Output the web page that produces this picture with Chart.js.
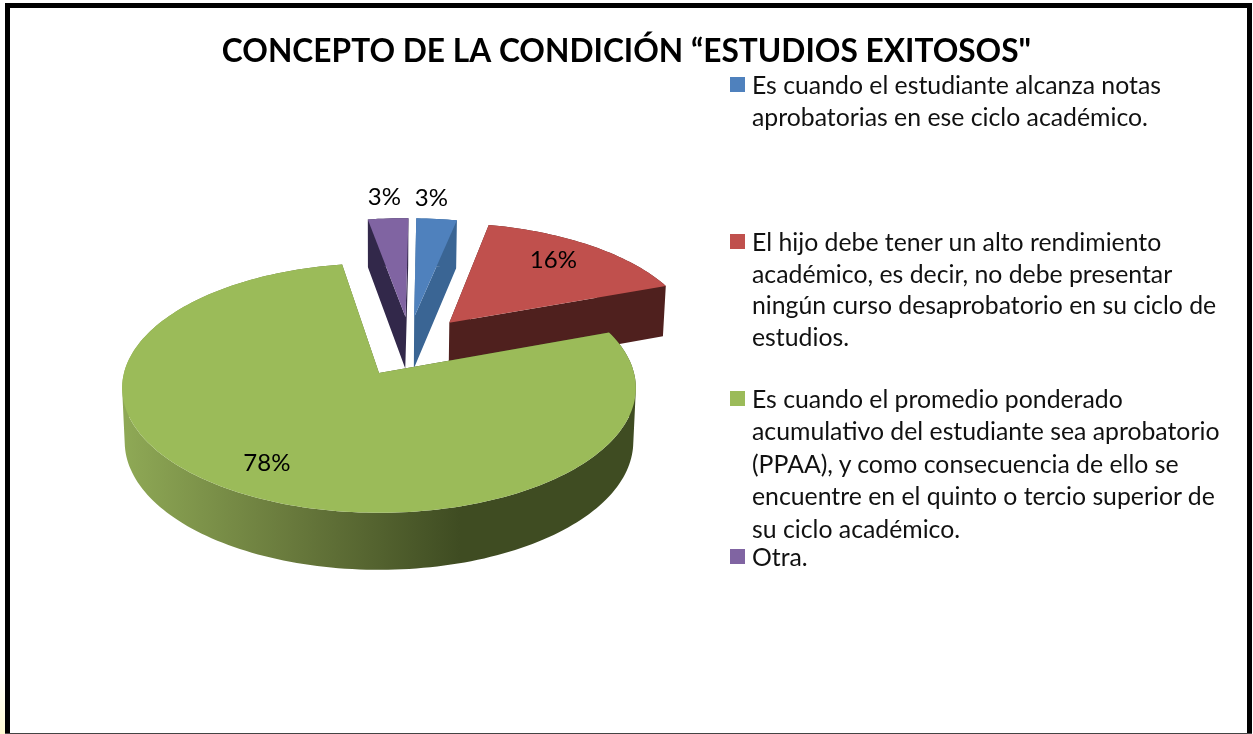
<!DOCTYPE html>
<html lang="es">
<head>
<meta charset="utf-8">
<title>Concepto de la condición</title>
<script src="https://cdn.jsdelivr.net/npm/chart.js@4/dist/chart.umd.min.js"></script>
<style>
  html, body { margin: 0; padding: 0; background: #fff; }
  #frame { position: relative; width: 1253px; height: 734px; overflow: hidden; background: #fff; }
  #frame::before { content: ""; position: absolute; left: 5px; top: 3px; right: 1px; bottom: 1px;
    border: solid #000; border-width: 5px 5px 0 5px; pointer-events: none; }
  #frame::after { content: ""; position: absolute; left: 0; top: 670px; width: 5px; height: 64px;
    background: linear-gradient(#fff, #fffbd2); }
  #base { position: absolute; left: 5px; right: 1px; bottom: 0; height: 1px; background: #444; }
  #chart { position: absolute; left: 0; top: 0; }
  .legend-item { position: absolute; left: 730px; font: 24.8px Lato, sans-serif; color: #111; white-space: nowrap; }
  .legend-item i { position: absolute; left: 0; top: 8px; width: 15px; height: 15px; }
  .legend-item span { display: block; margin-left: 22px; }
</style>
</head>
<body>
<div id="frame">
  <canvas id="chart" width="1253" height="734"></canvas>
  <div id="legend"></div>
  <div id="base"></div>
</div>
<script>
const TITLE = "CONCEPTO DE LA CONDICIÓN “ESTUDIOS EXITOSOS\"";
const categories = [
  "Es cuando el estudiante alcanza notas aprobatorias en ese ciclo académico.",
  "El hijo debe tener un alto rendimiento académico, es decir, no debe presentar ningún curso desaprobatorio en su ciclo de estudios.",
  "Es cuando el promedio ponderado acumulativo del estudiante sea aprobatorio (PPAA), y como consecuencia de ello se encuentre en el quinto o tercio superior de su ciclo académico.",
  "Otra.",
];
const values = [3, 16, 78, 3];
const valueLabels = ["3%", "16%", "78%", "3%"];
const colors = ["#4f81bd", "#c0504d", "#9bbb59", "#8064a2"];
const wallColors = ["#3a6594", "#4f201e", null, "#32284a"];

const legendLines = [
  ["Es cuando el estudiante alcanza notas", "aprobatorias en ese ciclo académico."],
  ["El hijo debe tener un alto rendimiento", "académico, es decir, no debe presentar", "ningún curso desaprobatorio en su ciclo de", "estudios."],
  ["Es cuando el promedio ponderado", "acumulativo del estudiante sea aprobatorio", "(PPAA), y como consecuencia de ello se", "encuentre en el quinto o tercio superior de", "su ciclo académico."],
  ["Otra."],
];
const legendTops = [69, 226, 383, 541];
const legendLineH = [31.6, 31.6, 32.4, 31.6];

// how the flat pie is laid on its side: a perspective view of the unit disc
const VIEW = { x: 379, y: 373, a: 255, b: 123, q: 0.12 };
// slice shift on the disc (explosion), label distance from the slice centre
const SHIFT = [[0.146, -0.4815], [0.29, -0.43], [0, 0], [0.11, -0.4815]];
const LABEL_DIST = [1.24, 0.75, 0.74, 1.24];
const LABEL_NUDGE = [[-10, 0], [-4, -3], [-9, 5], [0, 0]];

const project = (u, v) => {
  const w = 1 - VIEW.q * v;
  return { x: VIEW.x + (VIEW.a * u) / w, y: VIEW.y + (VIEW.b * v) / w };
};
// walls are a bit taller near the viewer
const wallH = (v) => 53.3 + 3.75 * v;

function slicePoints(arc, shift) {
  const pts = [{ u: shift[0], v: shift[1] }];
  const n = Math.max(8, Math.ceil((arc.endAngle - arc.startAngle) * 40));
  for (let i = 0; i <= n; i++) {
    const t = arc.startAngle + ((arc.endAngle - arc.startAngle) * i) / n;
    pts.push({ u: shift[0] + Math.cos(t), v: shift[1] + Math.sin(t) });
  }
  return pts;
}

function addPoly(ctx, list) {
  // same winding for all, so overlapping quads merge into one fill
  let area = 0;
  list.forEach((p, i) => {
    const n = list[(i + 1) % list.length];
    area += p.x * n.y - n.x * p.y;
  });
  const ordered = area < 0 ? list.slice().reverse() : list;
  ordered.forEach((p, i) => (i ? ctx.lineTo(p.x, p.y) : ctx.moveTo(p.x, p.y)));
  ctx.closePath();
}

const pie3d = {
  id: "pie3d",
  beforeDatasetsDraw(chart) {
    const ctx = chart.ctx;
    const arcs = chart.getDatasetMeta(0).data;
    const wallGrad = ctx.createLinearGradient(127, 0, 460, 0);
    wallGrad.addColorStop(0, "#8ea855");
    wallGrad.addColorStop(0.5, "#68793c");
    wallGrad.addColorStop(1, "#3f4c22");

    // far slices first, the big one last
    [3, 0, 1, 2].forEach((i) => {
      const pts = slicePoints(arcs[i], SHIFT[i]);
      const top = pts.map((p) => project(p.u, p.v));
      const bottom = pts.map((p) => {
        const q = project(p.u, p.v);
        return { x: VIEW.x + (q.x - VIEW.x) * 0.99, y: q.y + wallH(p.v) };
      });
      const last = top.length - 1;

      ctx.beginPath();
      addPoly(ctx, [top[0], top[1], bottom[1], bottom[0]]);
      addPoly(ctx, [top[0], top[last], bottom[last], bottom[0]]);
      for (let k = 1; k < last; k++) {
        addPoly(ctx, [top[k], top[k + 1], bottom[k + 1], bottom[k]]);
      }
      ctx.fillStyle = wallColors[i] || wallGrad;
      ctx.fill("nonzero");

      ctx.beginPath();
      top.forEach((p, k) => (k ? ctx.lineTo(p.x, p.y) : ctx.moveTo(p.x, p.y)));
      ctx.closePath();
      ctx.fillStyle = colors[i];
      ctx.fill();
    });

    ctx.font = "24px Lato, sans-serif";
    ctx.fillStyle = "#000";
    ctx.textAlign = "center";
    ctx.textBaseline = "middle";
    arcs.forEach((arc, i) => {
      const mid = (arc.startAngle + arc.endAngle) / 2;
      const p = project(
        SHIFT[i][0] + LABEL_DIST[i] * Math.cos(mid),
        SHIFT[i][1] + LABEL_DIST[i] * Math.sin(mid)
      );
      ctx.fillText(valueLabels[i], p.x + LABEL_NUDGE[i][0], p.y + LABEL_NUDGE[i][1]);
    });
    return false; // arcs are painted above, skip the flat ones
  },
};

new Chart(document.getElementById("chart"), {
  type: "pie",
  data: { labels: categories, datasets: [{ data: values, backgroundColor: colors, borderWidth: 0 }] },
  options: {
    responsive: false,
    animation: false,
    events: [],
    rotation: 1.5,
    plugins: {
      legend: { display: false },
      tooltip: { enabled: false },
      title: {
        display: true,
        text: TITLE,
        color: "#000",
        font: { family: "Lato, sans-serif", size: 31.7, weight: "bold" },
        padding: { top: 33, bottom: 10 },
      },
    },
  },
  plugins: [pie3d],
});

const legendEl = document.getElementById("legend");
legendLines.forEach((lines, i) => {
  const item = document.createElement("div");
  item.className = "legend-item";
  item.style.top = `${legendTops[i]}px`;
  item.style.lineHeight = `${legendLineH[i]}px`;
  const box = document.createElement("i");
  box.style.background = colors[i];
  item.appendChild(box);
  const text = document.createElement("span");
  text.innerHTML = lines.join("<br>");
  item.appendChild(text);
  legendEl.appendChild(item);
});
</script>
</body>
</html>
